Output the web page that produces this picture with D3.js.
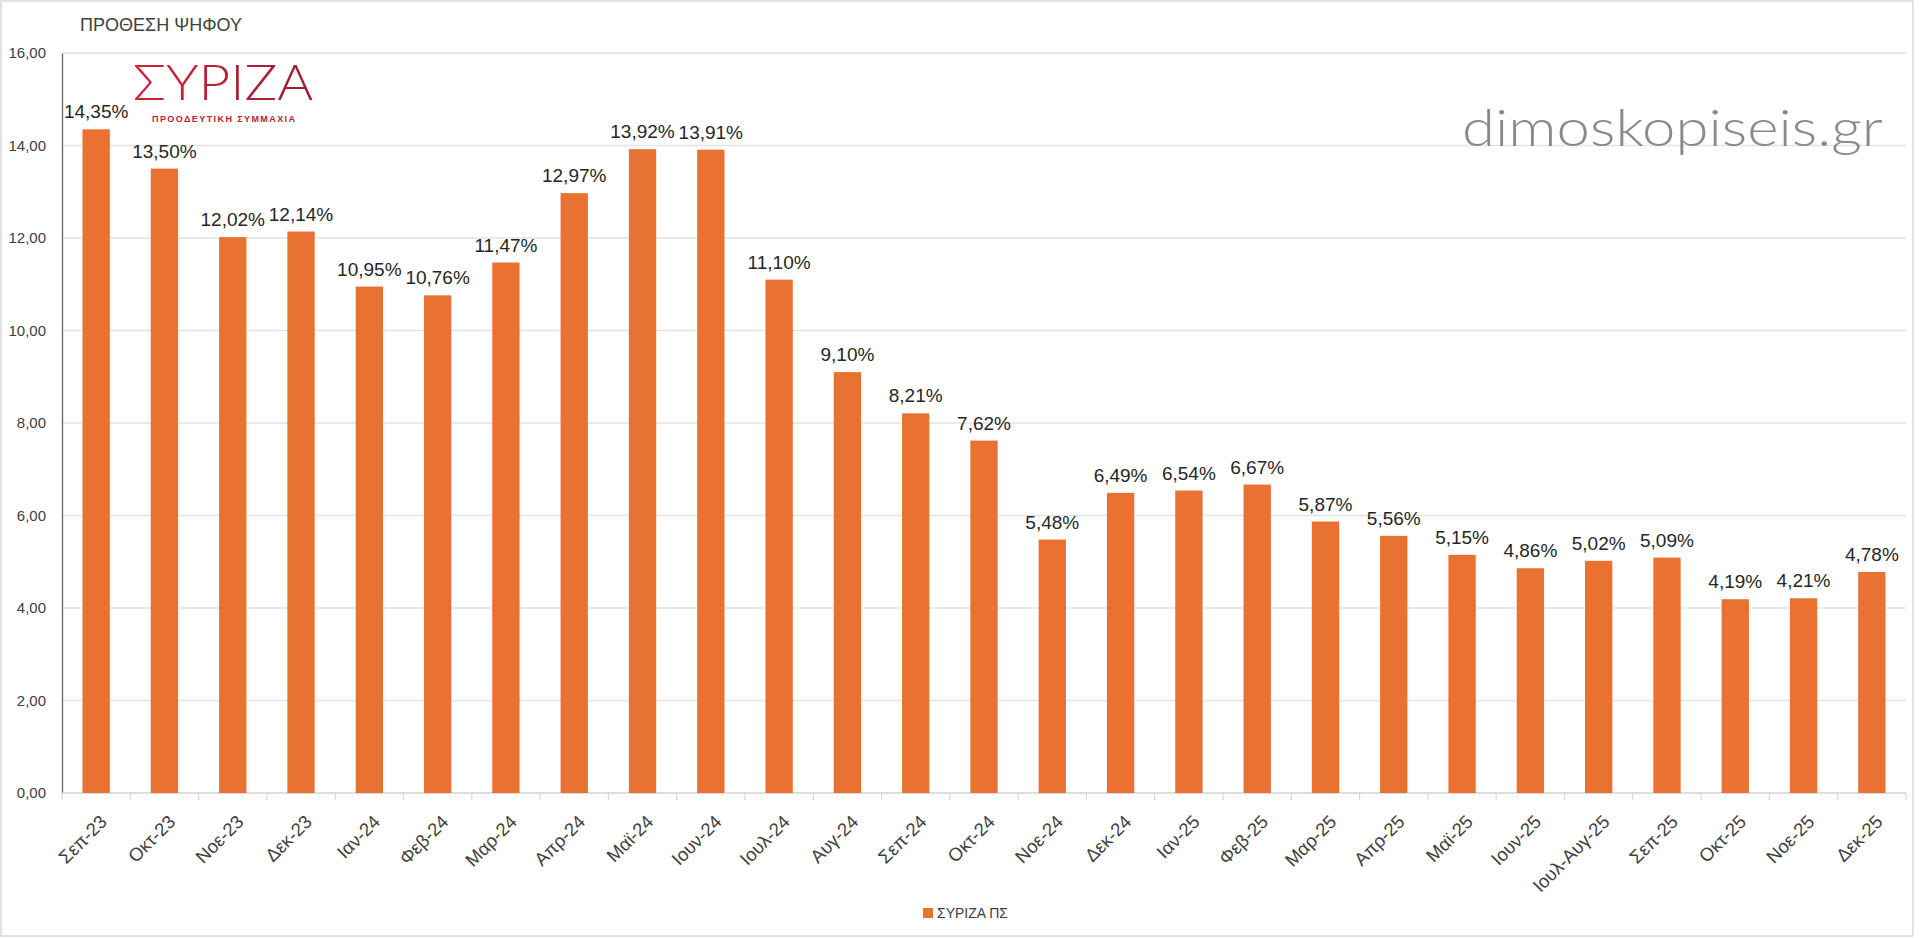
<!DOCTYPE html>
<html>
<head>
<meta charset="utf-8">
<script src="https://cdn.jsdelivr.net/npm/d3@7"></script>
<style>
  body { margin: 0; background: #fff; }
  svg { display: block; font-family: "Liberation Sans", Arial, sans-serif; }
</style>
</head>
<body>
<svg id="chart" width="1920" height="938"></svg>
<script>
// data
var months = ["Σεπ-23","Οκτ-23","Νοε-23","Δεκ-23","Ιαν-24","Φεβ-24","Μαρ-24","Απρ-24","Μαϊ-24","Ιουν-24",
  "Ιουλ-24","Αυγ-24","Σεπ-24","Οκτ-24","Νοε-24","Δεκ-24","Ιαν-25","Φεβ-25","Μαρ-25","Απρ-25",
  "Μαϊ-25","Ιουν-25","Ιουλ-Αυγ-25","Σεπ-25","Οκτ-25","Νοε-25","Δεκ-25"];
var syriza = [14.35, 13.50, 12.02, 12.14, 10.95, 10.76, 11.47, 12.97, 13.92, 13.91,
  11.10, 9.10, 8.21, 7.62, 5.48, 6.49, 6.54, 6.67, 5.87, 5.56,
  5.15, 4.86, 5.02, 5.09, 4.19, 4.21, 4.78];
var yTicks = [0, 2, 4, 6, 8, 10, 12, 14, 16];
var seriesName = "ΣΥΡΙΖΑ ΠΣ";
var title = "ΠΡΟΘΕΣΗ ΨΗΦΟΥ";

var barColor = "#E97132";
var comma = (v) => d3.format(".2f")(v).replace(".", ",");

let svg = d3.select("#chart");

// outer frame
svg.append("rect")
  .attr("x", 1).attr("y", 1).attr("width", 1912).attr("height", 935)
  .attr("fill", "none").attr("stroke", "#d9d9d9").attr("stroke-width", 1.5);

var xScale = d3.scaleBand().domain(months).range([62, 1906]).paddingInner(0.6).paddingOuter(0.3);
var yScale = d3.scaleLinear().domain([0, 16]).range([793, 53]);

/*** gridlines ***/
svg.append("g")
  .selectAll("line")
  .data(yTicks)
  .join("line")
  .attr("x1", 62).attr("x2", 1906)
  .attr("y1", (d) => yScale(d)).attr("y2", (d) => yScale(d))
  .attr("stroke", "#e3e3e3").attr("stroke-width", 1.3);

/*** y axis ***/
let yAxis = d3.axisLeft(yScale).tickValues(yTicks).tickFormat(comma).tickSize(0).tickPadding(16);
let gy = svg.append("g").attr("transform", "translate(62,0)").call(yAxis);
gy.select(".domain").attr("stroke", "#5f6b6b").attr("stroke-width", 1.3);
gy.selectAll("text").attr("font-size", 15).attr("fill", "#404040");

/*** x axis ***/
let xAxis = d3.axisBottom(xScale).tickSize(0).tickFormat("");
let gx = svg.append("g").attr("transform", "translate(0,793)").call(xAxis);
gx.select(".domain").remove();
gx.append("line").attr("x1", 62).attr("x2", 1906).attr("stroke", "#d9d9d9").attr("stroke-width", 1.3);
// tick marks between categories
gx.selectAll(".sep")
  .data(months.concat(["end"]))
  .join("line")
  .attr("class", "sep")
  .attr("x1", (d, i) => 62 + i * xScale.step()).attr("x2", (d, i) => 62 + i * xScale.step())
  .attr("y1", 0).attr("y2", 7)
  .attr("stroke", "#d9d9d9").attr("stroke-width", 1.3);

svg.append("g")
  .selectAll("text")
  .data(months)
  .join("text")
  .attr("transform", (d) => `translate(${xScale(d) + xScale.bandwidth() / 2 + 12},823) rotate(-45)`)
  .attr("text-anchor", "end")
  .attr("font-size", 18.5)
  .attr("fill", "#404040")
  .text((d) => d);

/*** bars ***/
svg.append("g")
  .selectAll("rect")
  .data(syriza)
  .join("rect")
  .attr("x", (d, i) => xScale(months[i]))
  .attr("y", (d) => yScale(d))
  .attr("width", xScale.bandwidth())
  .attr("height", (d) => yScale(0) - yScale(d))
  .attr("fill", barColor);

svg.append("g")
  .selectAll("text")
  .data(syriza)
  .join("text")
  .attr("x", (d, i) => xScale(months[i]) + xScale.bandwidth() / 2)
  .attr("y", (d) => yScale(d) - 11)
  .attr("text-anchor", "middle")
  .attr("font-size", 19)
  .attr("fill", "#262626")
  .text((d) => comma(d) + "%");

/*** title ***/
svg.append("text")
  .attr("x", 80).attr("y", 31)
  .attr("font-size", 18)
  .attr("fill", "#404040")
  .text(title);

/*** logo ***/
let grad = svg.append("defs").append("linearGradient").attr("id", "logoGrad");
grad.append("stop").attr("offset", "0%").attr("stop-color", "#d51f35");
grad.append("stop").attr("offset", "100%").attr("stop-color", "#9c1f33");
svg.append("text")
  .attr("x", 133).attr("y", 100)
  .attr("font-family", "Lato").attr("font-weight", 300)
  .attr("font-size", 49)
  .attr("textLength", 180).attr("lengthAdjust", "spacingAndGlyphs")
  .attr("fill", "url(#logoGrad)")
  .text("ΣΥΡΙΖΑ");
svg.append("text")
  .attr("x", 152).attr("y", 122)
  .attr("font-size", 9).attr("font-weight", "bold")
  .attr("textLength", 143).attr("lengthAdjust", "spacing")
  .attr("fill", "#b5223a")
  .text("ΠΡΟΟΔΕΥΤΙΚΗ ΣΥΜΜΑΧΙΑ");

/*** watermark ***/
svg.append("text")
  .attr("x", 1462).attr("y", 146)
  .attr("font-family", "Lato").attr("font-weight", 300)
  .attr("font-size", 52)
  .attr("textLength", 421).attr("lengthAdjust", "spacingAndGlyphs")
  .attr("fill", "#8a8a8a")
  .text("dimoskopiseis.gr");

/*** legend ***/
let legend = svg.append("g").attr("transform", "translate(923,908)");
legend.append("rect").attr("width", 10).attr("height", 10).attr("fill", barColor);
legend.append("text").attr("x", 14).attr("y", 10)
  .attr("font-size", 14).attr("fill", "#404040")
  .text(seriesName);
</script>
</body>
</html>
